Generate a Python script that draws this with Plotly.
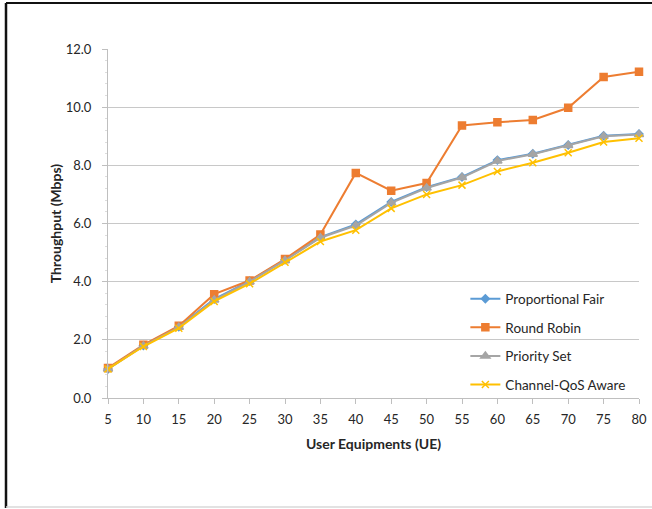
import plotly.graph_objects as go

# Number of user equipments per simulation run
user_equipments = [5, 10, 15, 20, 25, 30, 35, 40, 45, 50, 55, 60, 65, 70, 75, 80]

# Cell throughput (Mbps) per scheduler
proportional_fair = [1.0, 1.8, 2.45, 3.4, 4.02, 4.75, 5.53, 5.97, 6.74, 7.25, 7.6, 8.18, 8.4, 8.7, 9.02, 9.08]
round_robin = [1.03, 1.83, 2.48, 3.57, 4.04, 4.78, 5.62, 7.74, 7.13, 7.39, 9.37, 9.48, 9.56, 9.98, 11.04, 11.22]
priority_set = [1.0, 1.79, 2.43, 3.37, 4.0, 4.73, 5.51, 5.93, 6.71, 7.22, 7.58, 8.15, 8.38, 8.68, 9.0, 9.06]
channel_qos_aware = [1.0, 1.77, 2.4, 3.32, 3.93, 4.67, 5.38, 5.77, 6.52, 7.0, 7.32, 7.79, 8.09, 8.43, 8.8, 8.93]

y_ticks = [0, 2, 4, 6, 8, 10, 12]
x_ticks = user_equipments

series = [
    ("Proportional Fair", proportional_fair, "#5B9BD5", "diamond", 6),
    ("Round Robin", round_robin, "#ED7D31", "square", 7),
    ("Priority Set", priority_set, "#A5A5A5", "triangle-up", 8),
    ("Channel-QoS Aware", channel_qos_aware, "#FFC000", "x-thin-open", 7),
]

fig = go.Figure()
for name, values, color, symbol, size in series:
    fig.add_trace(go.Scatter(
        x=user_equipments, y=values, name=name, mode="lines+markers",
        legendgroup=name,
        line=dict(color=color, width=2),
        marker=dict(symbol=symbol, size=size, color=color,
                    line=dict(color=color, width=1.5)),
        cliponaxis=False,
    ))

font_family = "Lato, 'Open Sans', sans-serif"

fig.update_layout(
    width=652, height=509,
    margin=dict(l=108, r=13, t=49, b=111, autoexpand=False),
    paper_bgcolor="white", plot_bgcolor="white",
    font=dict(family=font_family, size=12, color="#262626"),
    showlegend=True,
    legend=dict(
        x=0.673, y=0.328, xanchor="left", yanchor="top",
        bgcolor="rgba(0,0,0,0)", borderwidth=0,
        font=dict(family=font_family, size=13.5, color="#262626"),
        tracegroupgap=8, itemwidth=30,
    ),
    xaxis=dict(
        range=[5, 80], tickmode="array", tickvals=x_ticks,
        ticktext=[str(v) for v in x_ticks],
        showgrid=False, zeroline=False, automargin=False,
        showline=True, linecolor="#BFBFBF", linewidth=1,
        ticks="outside", ticklen=5, tickcolor="#BFBFBF",
        ticklabelstandoff=4,
        tickfont=dict(size=13),
        title=dict(text="<b>User Equipments (UE)</b>", font=dict(size=14), standoff=13),
    ),
    yaxis=dict(
        range=[0, 12], tickmode="array", tickvals=y_ticks,
        ticktext=[f"{v:.1f}" for v in y_ticks],
        showgrid=True, gridcolor="#C8C8C8", gridwidth=1,
        zeroline=False, automargin=False,
        showline=True, linecolor="#BFBFBF", linewidth=1,
        ticks="outside", ticklen=5, tickcolor="#BFBFBF",
        ticklabelstandoff=8,
        tickfont=dict(size=13),
        minor=dict(dtick=0.4, ticks="outside", ticklen=2, tickcolor="#DDDDDD", showgrid=False),
        title=dict(text="<b>Throughput (Mbps)</b>", font=dict(size=14), standoff=0),
    ),
)

# Outer frame of the chart area
frame = dict(xref="paper", yref="paper", layer="above")
px_w = 652 - 108 - 13
px_h = 509 - 49 - 111
def px_to_paper_x(px):
    return (px - 108) / px_w
def px_to_paper_y(py):
    return (509 - 111 - py) / px_h

fig.add_shape(type="line", x0=px_to_paper_x(6), x1=px_to_paper_x(652),
              y0=px_to_paper_y(3), y1=px_to_paper_y(3),
              line=dict(color="#111111", width=2), **frame)
fig.add_shape(type="line", x0=px_to_paper_x(6), x1=px_to_paper_x(6),
              y0=px_to_paper_y(3), y1=px_to_paper_y(508),
              line=dict(color="#111111", width=2.5), **frame)
fig.add_shape(type="line", x0=px_to_paper_x(6), x1=px_to_paper_x(652),
              y0=px_to_paper_y(507), y1=px_to_paper_y(507),
              line=dict(color="#D9D9D9", width=1.5), **frame)

fig.write_html("out.html")
